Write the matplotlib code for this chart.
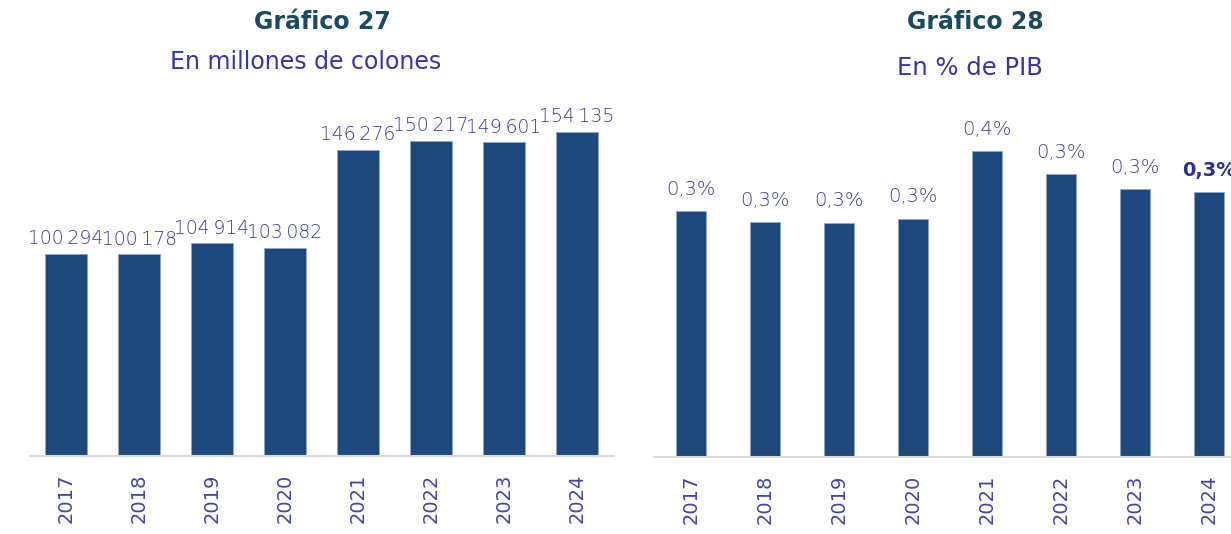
import matplotlib.pyplot as plt

# data
years = ["2017", "2018", "2019", "2020", "2021", "2022", "2023", "2024"]
colones = [100294, 100178, 104914, 103082, 146276, 150217, 149601, 154135]
pct_pib = [0.297, 0.284, 0.283, 0.288, 0.370, 0.342, 0.324, 0.320]

bar_col = "#1f497d"
lab_col = "#3a3a9a"
tick_col = "#4444a8"
title_col = "#1b4a5e"
sub_col = "#3a34a0"

plt.rcParams['font.family'] = ['DejaVu Sans']

fig = plt.figure(figsize=(12.31, 5.34), dpi=100)

# left panel: millions of colones
ax1 = fig.add_axes([0.024, 0.146, 0.4744, 0.667])
x = range(len(years))
ax1.bar(x, colones, width=0.575, color=bar_col, edgecolor="#8fa6c4", linewidth=0.6)
ax1.set_xlim(-0.5, 7.5)
ax1.set_ylim(11150, 168250)
for i, v in enumerate(colones):
    txt = f"{v:,}".replace(",", "\u2009")
    ax1.annotate(txt, (i, v), xytext=(0, 4), textcoords="offset points",
                 ha="center", va="bottom", fontsize=13.5, color=lab_col,
                 fontweight="light")

# right panel: % of GDP
ax2 = fig.add_axes([0.5313, 0.1442, 0.4809, 0.669])
ax2.bar(x, pct_pib, width=0.41, color=bar_col, edgecolor="#8fa6c4", linewidth=0.6)
ax2.set_xlim(-0.5, 7.5)
ax2.set_ylim(0, 0.432)
for i, v in enumerate(pct_pib):
    txt = f"{v:.1f}".replace(".", ",") + "%"
    last = i == len(pct_pib) - 1
    ax2.annotate(txt, (i, v), xytext=(0, 9), textcoords="offset points",
                 ha="center", va="bottom", fontsize=14,
                 color="#2e2e8c" if last else lab_col,
                 fontweight="bold" if last else "light")

for ax in (ax1, ax2):
    ax.set_xticks(list(x))
    ax.set_xticklabels(years, rotation=90, fontsize=14, color=tick_col)
    ax.tick_params(axis="x", length=0, pad=13)
    ax.set_yticks([])
    for s in ("top", "right", "left"):
        ax.spines[s].set_visible(False)
    ax.spines["bottom"].set_color("#d9d9d9")
    ax.spines["bottom"].set_linewidth(1.5)

fig.text(0.262, 0.958, "Gráfico 27", ha="center", va="center",
         fontsize=17, color=title_col, fontweight="bold")
fig.text(0.248, 0.884, "En millones de colones", ha="center", va="center",
         fontsize=17, color=sub_col)
fig.text(0.792, 0.958, "Gráfico 28", ha="center", va="center",
         fontsize=17, color=title_col, fontweight="bold")
fig.text(0.788, 0.873, "En % de PIB", ha="center", va="center",
         fontsize=17.5, color=sub_col)

fig.savefig("out.png", dpi=100)
